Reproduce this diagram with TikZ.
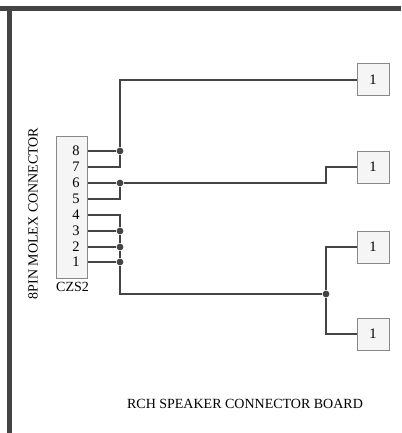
\documentclass[tikz,border=0pt]{standalone}
\usepackage{fontspec}
\setmainfont{Liberation Serif}
\usepackage{tikz}
\usetikzlibrary{positioning,calc}
\definecolor{wirecol}{HTML}{444444}
\definecolor{boxcol}{HTML}{F5F5F5}
\definecolor{edgecol}{HTML}{888888}
\tikzstyle{dot} = [circle,fill=wirecol,inner sep=0pt,minimum size=6.8pt]
\tikzstyle{wire} = [wirecol,line width=1.3pt]
\tikzstyle{frameline} = [wirecol,line width=5pt]
\tikzstyle{spk} = [draw=edgecol,fill=boxcol,line width=1pt,minimum size=32pt,inner sep=0pt,font=\fontsize{14.5pt}{16pt}\selectfont]
\tikzstyle{pin} = [inner sep=0pt,font=\fontsize{14.5pt}{16pt}\selectfont]
\tikzstyle{lbl} = [inner sep=0pt,font=\fontsize{14pt}{16pt}\selectfont]

\begin{document}
\begin{tikzpicture}[x=1pt,y=-1pt]
    \useasboundingbox (0,0) rectangle (401,433);
    \coordinate (topleft) at (0,9);
    \coordinate (topright) at (401,9);
    \coordinate (sidetop) at (9,6.5);
    \coordinate (sidebot) at (9,433);
    \draw [frameline] (topleft) -- (topright);
    \draw [frameline] (sidetop) -- (sidebot);

    \node [draw=edgecol,fill=boxcol,line width=1pt,minimum width=31.5pt,minimum height=142pt,inner sep=0pt] (czs) at (72.2,207) {};
    \node [lbl] (czsname) at (72.5,287) {CZS2};
    \node [lbl,rotate=90] (molex) at (33,213.5) {8PIN MOLEX CONNECTOR};
    \node [lbl] (board) at (245,404) {RCH SPEAKER CONNECTOR BOARD};

    \foreach \n/\y in {8/151,7/167,6/183,5/199,4/215,3/231,2/247,1/262} {
      \node [pin] (pin\n) at (76,\y) {\n};
      \coordinate (out\n) at (88,\y);
    }

    \node [spk] (spka) at (373,80) {1};
    \node [spk] (spkb) at (373,167) {1};
    \node [spk] (spkc) at (373,247) {1};
    \node [spk] (spkd) at (373,334) {1};

    \node [dot] (dot8) at (120,151) {};
    \node [dot] (dot6) at (120,183) {};
    \node [dot] (dot3) at (120,231) {};
    \node [dot] (dot2) at (120,247) {};
    \node [dot] (dot1) at (120,262) {};
    \node [dot] (dotc) at (326,294) {};

    \draw [wire] (out8) -- (dot8);
    \draw [wire] (out7) -| (dot8);
    \draw [wire] (dot8) |- (spka.west);
    \draw [wire] (out6) -- (dot6);
    \draw [wire] (out5) -| (dot6);
    \draw [wire] (dot6) -- (326,183) |- (spkb.west);
    \draw [wire] (out4) -| (dot3);
    \draw [wire] (out3) -- (dot3);
    \draw [wire] (out2) -- (dot2);
    \draw [wire] (out1) -- (dot1);
    \draw [wire] (dot3) -- (dot2);
    \draw [wire] (dot2) -- (dot1);
    \draw [wire] (dot1) |- (dotc);
    \draw [wire] (dotc) |- (spkc.west);
    \draw [wire] (dotc) |- (spkd.west);
\end{tikzpicture}
\end{document}
